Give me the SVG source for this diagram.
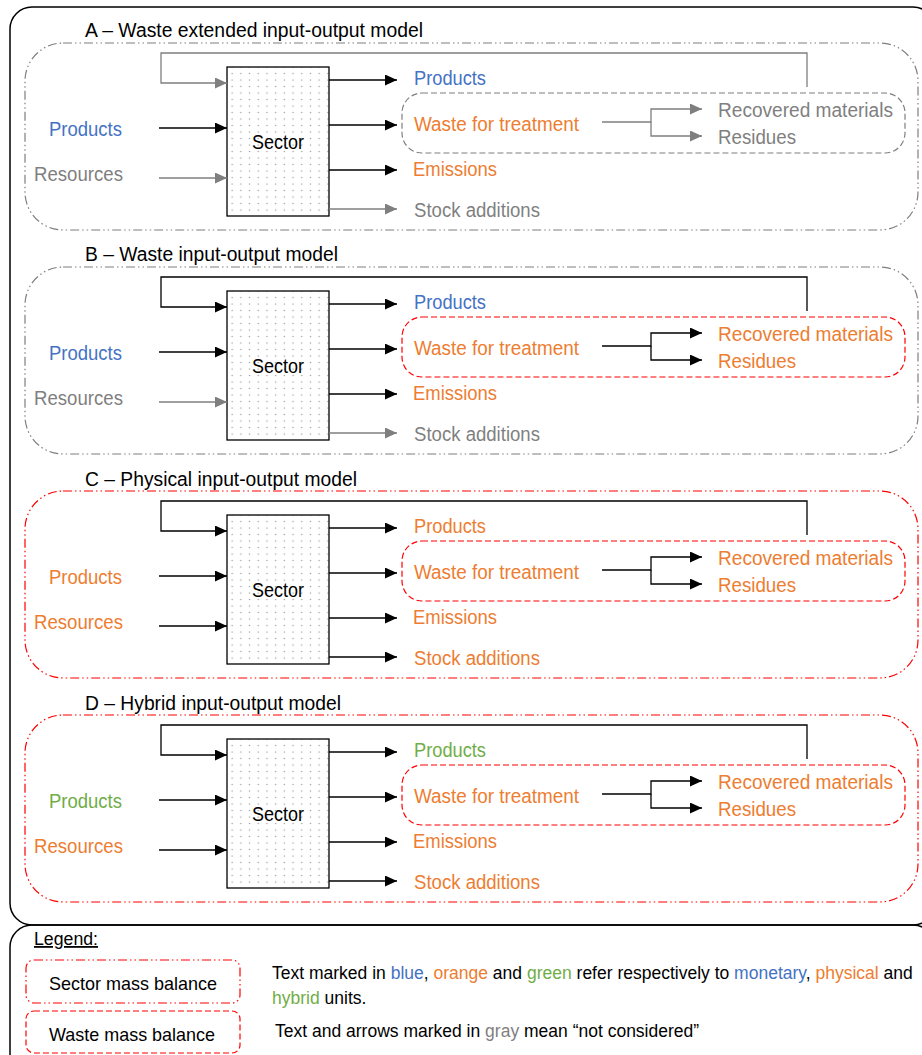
<svg xmlns="http://www.w3.org/2000/svg" width="922" height="1055" viewBox="0 0 922 1055">
<style>
text{font-family:"Liberation Sans",Arial,sans-serif;font-size:20px}
.blue{fill:#4472C4}.orange{fill:#ED7D31}.green{fill:#70AD47}.gray{fill:#7F7F7F}.black{fill:#000}
.lg{font-size:19px}
.lt{font-size:17.5px}
.frame{fill:none;stroke:#000;stroke-width:1.5}
.sect{fill:none;stroke-width:1.2;stroke-dasharray:9 3 1.5 3 1.5 3}
.wbox{fill:none;stroke-width:1.2;stroke-dasharray:6 3}
.sr{stroke:#FF0000}.sg{stroke:#7F7F7F}
.ck{fill:none;stroke:#000;stroke-width:1.3;marker-end:url(#ak)}
.cg{fill:none;stroke:#7F7F7F;stroke-width:1.3;marker-end:url(#ag)}
.box{fill:url(#dots);stroke:#000;stroke-width:1.3}
</style>
<defs>
<pattern id="dots" patternUnits="userSpaceOnUse" width="8.7" height="6.5" x="1.6" y="-1.2">
<rect width="8.7" height="6.5" fill="#fff"/>
<circle cx="4.35" cy="3.25" r="0.75" fill="#9a9a9a"/>
</pattern>
<marker id="ak" markerUnits="userSpaceOnUse" markerWidth="12" markerHeight="11" refX="12" refY="5.5" orient="auto">
<path d="M0,0 L12,5.5 L0,11 Z" fill="#000"/>
</marker>
<marker id="ag" markerUnits="userSpaceOnUse" markerWidth="12" markerHeight="11" refX="12" refY="5.5" orient="auto">
<path d="M0,0 L12,5.5 L0,11 Z" fill="#7F7F7F"/>
</marker>
</defs>
<rect width="922" height="1055" fill="#fff"/>

<g id="frames">
<rect class="frame" x="10" y="7" width="925" height="918" rx="22"/>
<rect class="frame" x="10" y="925" width="925" height="150" rx="22"/>
</g>

<!-- Panel A -->
<g id="panelA">
<text x="85" y="37" textLength="338" lengthAdjust="spacingAndGlyphs">A – Waste extended input-output model</text>
<rect id="A-sector-balance" class="sect sg" x="25" y="43" width="893" height="187" rx="38"/>
<rect id="A-waste-balance" class="wbox sg" x="402" y="93" width="503" height="60" rx="20"/>
<g id="A-sector">
<rect class="box" x="227" y="67" width="102" height="149"/>
<text x="278" y="149" text-anchor="middle" textLength="52" lengthAdjust="spacingAndGlyphs">Sector</text>
</g>
<g id="A-connectors">
<path class="cg" d="M807,87 V53 H161 V83 H227"/>
<path class="ck" d="M159,128 H227"/>
<path class="cg" d="M159,178 H227"/>
<path class="ck" d="M329,80 H397"/>
<path class="ck" d="M329,125 H397"/>
<path class="ck" d="M329,170 H397"/>
<path class="cg" d="M329,209 H397"/>
<path class="cg" d="M602,122 H651 V109 H702"/>
<path class="cg" d="M651,122 V136 H702"/>
</g>
<g id="A-labels">
<text class="blue" x="49" y="136" textLength="73" lengthAdjust="spacingAndGlyphs">Products</text>
<text class="gray" x="34" y="181" textLength="89" lengthAdjust="spacingAndGlyphs">Resources</text>
<text class="blue" x="414" y="85" textLength="72" lengthAdjust="spacingAndGlyphs">Products</text>
<text class="orange" x="414" y="131" textLength="165" lengthAdjust="spacingAndGlyphs">Waste for treatment</text>
<text class="gray" x="718" y="117" textLength="175" lengthAdjust="spacingAndGlyphs">Recovered materials</text>
<text class="gray" x="718" y="144" textLength="78" lengthAdjust="spacingAndGlyphs">Residues</text>
<text class="orange" x="413" y="176" textLength="84" lengthAdjust="spacingAndGlyphs">Emissions</text>
<text class="gray" x="414" y="217" textLength="126" lengthAdjust="spacingAndGlyphs">Stock additions</text>
</g>
</g>

<!-- Panel B -->
<g id="panelB" transform="translate(0,224)">
<text x="85" y="37" textLength="253" lengthAdjust="spacingAndGlyphs">B – Waste input-output model</text>
<rect id="B-sector-balance" class="sect sg" x="25" y="43" width="893" height="187" rx="38"/>
<rect id="B-waste-balance" class="wbox sr" x="402" y="93" width="503" height="60" rx="20"/>
<g id="B-sector">
<rect class="box" x="227" y="67" width="102" height="149"/>
<text x="278" y="149" text-anchor="middle" textLength="52" lengthAdjust="spacingAndGlyphs">Sector</text>
</g>
<g id="B-connectors">
<path class="ck" d="M807,87 V53 H161 V83 H227"/>
<path class="ck" d="M159,128 H227"/>
<path class="cg" d="M159,178 H227"/>
<path class="ck" d="M329,80 H397"/>
<path class="ck" d="M329,125 H397"/>
<path class="ck" d="M329,170 H397"/>
<path class="cg" d="M329,209 H397"/>
<path class="ck" d="M602,122 H651 V109 H702"/>
<path class="ck" d="M651,122 V136 H702"/>
</g>
<g id="B-labels">
<text class="blue" x="49" y="136" textLength="73" lengthAdjust="spacingAndGlyphs">Products</text>
<text class="gray" x="34" y="181" textLength="89" lengthAdjust="spacingAndGlyphs">Resources</text>
<text class="blue" x="414" y="85" textLength="72" lengthAdjust="spacingAndGlyphs">Products</text>
<text class="orange" x="414" y="131" textLength="165" lengthAdjust="spacingAndGlyphs">Waste for treatment</text>
<text class="orange" x="718" y="117" textLength="175" lengthAdjust="spacingAndGlyphs">Recovered materials</text>
<text class="orange" x="718" y="144" textLength="78" lengthAdjust="spacingAndGlyphs">Residues</text>
<text class="orange" x="413" y="176" textLength="84" lengthAdjust="spacingAndGlyphs">Emissions</text>
<text class="gray" x="414" y="217" textLength="126" lengthAdjust="spacingAndGlyphs">Stock additions</text>
</g>
</g>

<!-- Panel C -->
<g id="panelC" transform="translate(0,448)">
<text x="85" y="38" textLength="272" lengthAdjust="spacingAndGlyphs">C – Physical input-output model</text>
<rect id="C-sector-balance" class="sect sr" x="25" y="43" width="893" height="187" rx="38"/>
<rect id="C-waste-balance" class="wbox sr" x="402" y="93" width="503" height="60" rx="20"/>
<g id="C-sector">
<rect class="box" x="227" y="67" width="102" height="149"/>
<text x="278" y="149" text-anchor="middle" textLength="52" lengthAdjust="spacingAndGlyphs">Sector</text>
</g>
<g id="C-connectors">
<path class="ck" d="M807,87 V53 H161 V83 H227"/>
<path class="ck" d="M159,128 H227"/>
<path class="ck" d="M159,178 H227"/>
<path class="ck" d="M329,80 H397"/>
<path class="ck" d="M329,125 H397"/>
<path class="ck" d="M329,170 H397"/>
<path class="ck" d="M329,209 H397"/>
<path class="ck" d="M602,122 H651 V109 H702"/>
<path class="ck" d="M651,122 V136 H702"/>
</g>
<g id="C-labels">
<text class="orange" x="49" y="136" textLength="73" lengthAdjust="spacingAndGlyphs">Products</text>
<text class="orange" x="34" y="181" textLength="89" lengthAdjust="spacingAndGlyphs">Resources</text>
<text class="orange" x="414" y="85" textLength="72" lengthAdjust="spacingAndGlyphs">Products</text>
<text class="orange" x="414" y="131" textLength="165" lengthAdjust="spacingAndGlyphs">Waste for treatment</text>
<text class="orange" x="718" y="117" textLength="175" lengthAdjust="spacingAndGlyphs">Recovered materials</text>
<text class="orange" x="718" y="144" textLength="78" lengthAdjust="spacingAndGlyphs">Residues</text>
<text class="orange" x="413" y="176" textLength="84" lengthAdjust="spacingAndGlyphs">Emissions</text>
<text class="orange" x="414" y="217" textLength="126" lengthAdjust="spacingAndGlyphs">Stock additions</text>
</g>
</g>

<!-- Panel D -->
<g id="panelD" transform="translate(0,672)">
<text x="85" y="38" textLength="256" lengthAdjust="spacingAndGlyphs">D – Hybrid input-output model</text>
<rect id="D-sector-balance" class="sect sr" x="25" y="43" width="893" height="187" rx="38"/>
<rect id="D-waste-balance" class="wbox sr" x="402" y="93" width="503" height="60" rx="20"/>
<g id="D-sector">
<rect class="box" x="227" y="67" width="102" height="149"/>
<text x="278" y="149" text-anchor="middle" textLength="52" lengthAdjust="spacingAndGlyphs">Sector</text>
</g>
<g id="D-connectors">
<path class="ck" d="M807,87 V53 H161 V83 H227"/>
<path class="ck" d="M159,128 H227"/>
<path class="ck" d="M159,178 H227"/>
<path class="ck" d="M329,80 H397"/>
<path class="ck" d="M329,125 H397"/>
<path class="ck" d="M329,170 H397"/>
<path class="ck" d="M329,209 H397"/>
<path class="ck" d="M602,122 H651 V109 H702"/>
<path class="ck" d="M651,122 V136 H702"/>
</g>
<g id="D-labels">
<text class="green" x="49" y="136" textLength="73" lengthAdjust="spacingAndGlyphs">Products</text>
<text class="orange" x="34" y="181" textLength="89" lengthAdjust="spacingAndGlyphs">Resources</text>
<text class="green" x="414" y="85" textLength="72" lengthAdjust="spacingAndGlyphs">Products</text>
<text class="orange" x="414" y="131" textLength="165" lengthAdjust="spacingAndGlyphs">Waste for treatment</text>
<text class="orange" x="718" y="117" textLength="175" lengthAdjust="spacingAndGlyphs">Recovered materials</text>
<text class="orange" x="718" y="144" textLength="78" lengthAdjust="spacingAndGlyphs">Residues</text>
<text class="orange" x="413" y="176" textLength="84" lengthAdjust="spacingAndGlyphs">Emissions</text>
<text class="orange" x="414" y="217" textLength="126" lengthAdjust="spacingAndGlyphs">Stock additions</text>
</g>
</g>

<!-- Legend -->
<g id="legend">
<text x="34" y="945" style="font-size:18px" text-decoration="underline" textLength="64" lengthAdjust="spacingAndGlyphs">Legend:</text>
<g id="legend-sector">
<rect class="sect sr" x="26" y="960" width="214" height="43" rx="8"/>
<text class="lg" x="49" y="990" textLength="168" lengthAdjust="spacingAndGlyphs">Sector mass balance</text>
</g>
<g id="legend-waste">
<rect class="wbox sr" x="26" y="1011" width="214" height="42" rx="8"/>
<text class="lg" x="49" y="1041" textLength="166" lengthAdjust="spacingAndGlyphs">Waste mass balance</text>
</g>
<g id="legend-units">
<text class="lt" x="272" y="979">Text marked in <tspan class="blue">blue</tspan>, <tspan class="orange">orange</tspan> and <tspan class="green">green</tspan> refer respectively to <tspan class="blue">monetary</tspan>, <tspan class="orange">physical</tspan> and</text>
<text class="lt" x="272" y="1004"><tspan class="green">hybrid</tspan> units.</text>
</g>
<g id="legend-gray">
<text class="lt" x="275" y="1037">Text and arrows marked in <tspan class="gray">gray</tspan> mean “not considered”</text>
</g>
</g>
</svg>
